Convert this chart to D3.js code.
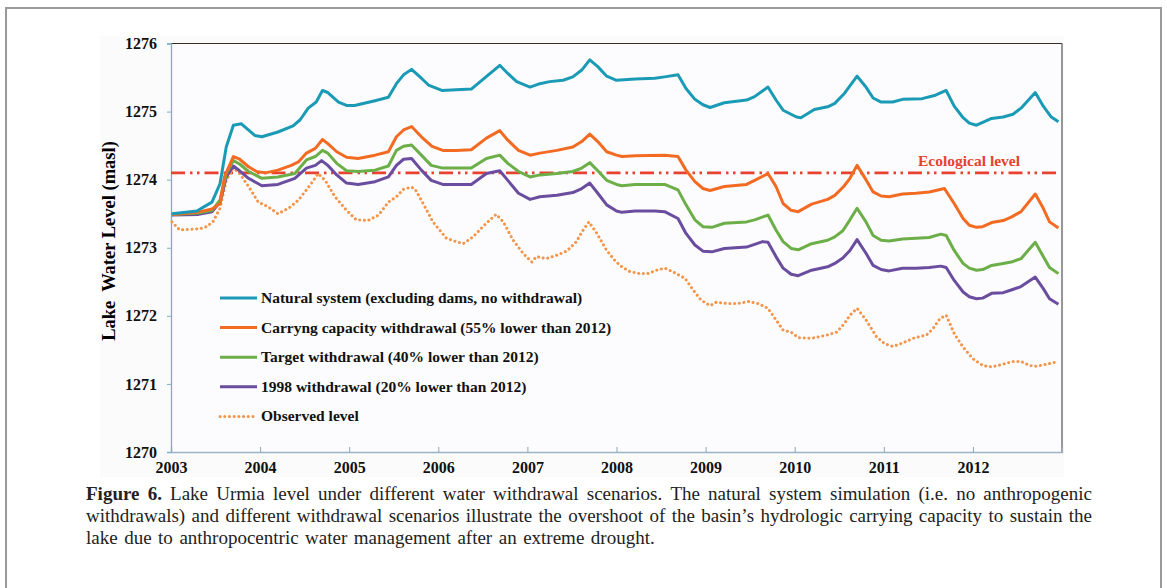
<!DOCTYPE html>
<meta charset="utf-8">
<style>
body { margin: 0; background: #fff; }
svg { display: block; }
.tick text { font-family: "Liberation Serif", "Times New Roman", serif; font-weight: bold; font-size: 16px; fill: #111; }
.legend text { font-family: "Liberation Serif", serif; font-weight: bold; font-size: 15.5px; fill: #111; }
.caption text { font-family: "Liberation Serif", serif; font-size: 19px; fill: #222; }
</style>
<body>
<script src="https://d3js.org/d3.v7.min.js"></script>
<script>

var width = 1167,
    height = 588;

// [decimal year, lake level (masl)]
var natural = [
  [2003.01,1273.50],[2003.29,1273.54],[2003.46,1273.67],[2003.55,1273.94],[2003.62,1274.48],[2003.70,1274.80],
  [2003.79,1274.82],[2003.94,1274.65],[2004.02,1274.63],[2004.20,1274.70],[2004.37,1274.79],[2004.45,1274.88],
  [2004.54,1275.05],[2004.63,1275.14],[2004.70,1275.31],[2004.76,1275.28],[2004.88,1275.14],[2004.97,1275.09],
  [2005.06,1275.09],[2005.29,1275.16],[2005.44,1275.21],[2005.53,1275.41],[2005.61,1275.54],[2005.70,1275.62],
  [2005.81,1275.49],[2005.89,1275.39],[2006.04,1275.31],[2006.20,1275.32],[2006.37,1275.33],[2006.69,1275.68],
  [2006.78,1275.56],[2006.88,1275.44],[2007.03,1275.36],[2007.14,1275.41],[2007.25,1275.44],[2007.40,1275.46],
  [2007.51,1275.51],[2007.61,1275.61],[2007.70,1275.76],[2007.79,1275.66],[2007.89,1275.52],[2008.00,1275.46],
  [2008.21,1275.48],[2008.43,1275.49],[2008.54,1275.51],[2008.69,1275.54],[2008.78,1275.34],[2008.88,1275.18],
  [2008.97,1275.10],[2009.05,1275.06],[2009.21,1275.13],[2009.46,1275.17],[2009.55,1275.22],[2009.70,1275.36],
  [2009.79,1275.17],[2009.87,1275.02],[2010.02,1274.92],[2010.07,1274.91],[2010.22,1275.03],[2010.37,1275.07],
  [2010.45,1275.12],[2010.56,1275.27],[2010.70,1275.52],[2010.80,1275.36],[2010.88,1275.20],[2010.97,1275.14],
  [2011.10,1275.14],[2011.21,1275.18],[2011.43,1275.19],[2011.58,1275.24],[2011.70,1275.31],[2011.79,1275.08],
  [2011.89,1274.91],[2011.96,1274.83],[2012.04,1274.80],[2012.11,1274.84],[2012.21,1274.90],[2012.34,1274.92],
  [2012.45,1274.96],[2012.54,1275.05],[2012.70,1275.28],[2012.79,1275.08],[2012.88,1274.92],[2012.96,1274.85]
];

var carrying = [
  [2003.01,1273.49],[2003.29,1273.52],[2003.46,1273.57],[2003.55,1273.65],[2003.60,1274.04],[2003.70,1274.34],
  [2003.77,1274.30],[2003.87,1274.19],[2003.96,1274.12],[2004.06,1274.10],[2004.20,1274.14],[2004.35,1274.21],
  [2004.43,1274.26],[2004.52,1274.39],[2004.62,1274.46],[2004.70,1274.59],[2004.76,1274.53],[2004.86,1274.41],
  [2004.97,1274.33],[2005.10,1274.31],[2005.29,1274.36],[2005.44,1274.41],[2005.53,1274.63],[2005.61,1274.73],
  [2005.70,1274.78],[2005.81,1274.63],[2005.93,1274.49],[2006.05,1274.43],[2006.20,1274.43],[2006.37,1274.44],
  [2006.54,1274.61],[2006.69,1274.72],[2006.78,1274.58],[2006.90,1274.43],[2007.03,1274.36],[2007.14,1274.39],
  [2007.33,1274.43],[2007.51,1274.48],[2007.61,1274.56],[2007.70,1274.67],[2007.79,1274.56],[2007.89,1274.41],
  [2008.00,1274.36],[2008.06,1274.34],[2008.21,1274.35],[2008.54,1274.36],[2008.69,1274.34],[2008.78,1274.14],
  [2008.88,1273.97],[2008.97,1273.87],[2009.05,1273.84],[2009.21,1273.90],[2009.46,1273.93],[2009.55,1273.99],
  [2009.70,1274.09],[2009.79,1273.90],[2009.87,1273.65],[2009.96,1273.55],[2010.04,1273.53],[2010.19,1273.64],
  [2010.37,1273.71],[2010.45,1273.77],[2010.55,1273.90],[2010.62,1274.02],[2010.70,1274.21],[2010.80,1274.00],
  [2010.88,1273.82],[2010.97,1273.76],[2011.06,1273.75],[2011.21,1273.79],[2011.36,1273.80],[2011.51,1273.82],
  [2011.68,1273.87],[2011.79,1273.65],[2011.89,1273.43],[2011.96,1273.33],[2012.04,1273.30],[2012.11,1273.31],
  [2012.21,1273.37],[2012.34,1273.40],[2012.43,1273.45],[2012.54,1273.53],[2012.70,1273.79],[2012.79,1273.58],
  [2012.86,1273.38],[2012.96,1273.29]
];

var target = [
  [2003.01,1273.49],[2003.31,1273.51],[2003.46,1273.55],[2003.55,1273.70],[2003.62,1274.09],[2003.70,1274.28],
  [2003.77,1274.23],[2003.87,1274.12],[2004.02,1274.02],[2004.20,1274.04],[2004.39,1274.09],[2004.52,1274.29],
  [2004.62,1274.34],[2004.70,1274.43],[2004.76,1274.39],[2004.86,1274.24],[2004.97,1274.13],[2005.10,1274.12],
  [2005.29,1274.14],[2005.44,1274.20],[2005.53,1274.43],[2005.61,1274.49],[2005.70,1274.51],[2005.81,1274.36],
  [2005.92,1274.21],[2006.05,1274.17],[2006.37,1274.17],[2006.54,1274.31],[2006.69,1274.36],[2006.78,1274.24],
  [2006.90,1274.12],[2007.03,1274.04],[2007.14,1274.07],[2007.33,1274.09],[2007.51,1274.12],[2007.61,1274.17],
  [2007.70,1274.25],[2007.79,1274.13],[2007.89,1273.99],[2008.00,1273.93],[2008.06,1273.91],[2008.21,1273.93],
  [2008.54,1273.93],[2008.69,1273.85],[2008.78,1273.63],[2008.88,1273.41],[2008.97,1273.31],[2009.07,1273.30],
  [2009.21,1273.36],[2009.46,1273.38],[2009.55,1273.41],[2009.70,1273.48],[2009.79,1273.26],[2009.87,1273.09],
  [2009.96,1272.99],[2010.04,1272.97],[2010.19,1273.06],[2010.37,1273.11],[2010.45,1273.16],[2010.54,1273.25],
  [2010.62,1273.41],[2010.70,1273.58],[2010.80,1273.38],[2010.88,1273.18],[2010.97,1273.11],[2011.06,1273.10],
  [2011.21,1273.13],[2011.36,1273.14],[2011.51,1273.15],[2011.64,1273.20],[2011.70,1273.18],[2011.79,1272.96],
  [2011.89,1272.77],[2011.96,1272.70],[2012.04,1272.67],[2012.11,1272.68],[2012.21,1272.74],[2012.34,1272.77],
  [2012.43,1272.79],[2012.54,1272.84],[2012.70,1273.08],[2012.79,1272.87],[2012.86,1272.71],[2012.96,1272.62]
];

var w1998 = [
  [2003.01,1273.48],[2003.31,1273.49],[2003.46,1273.53],[2003.55,1273.67],[2003.62,1274.04],[2003.70,1274.20],
  [2003.77,1274.13],[2003.87,1274.02],[2004.02,1273.91],[2004.20,1273.93],[2004.39,1274.02],[2004.52,1274.17],
  [2004.62,1274.21],[2004.69,1274.28],[2004.76,1274.21],[2004.86,1274.07],[2004.97,1273.95],[2005.10,1273.93],
  [2005.29,1273.97],[2005.44,1274.04],[2005.53,1274.21],[2005.61,1274.30],[2005.70,1274.31],[2005.81,1274.14],
  [2005.92,1273.99],[2006.05,1273.93],[2006.37,1273.93],[2006.54,1274.09],[2006.69,1274.13],[2006.78,1273.99],
  [2006.90,1273.80],[2007.03,1273.71],[2007.14,1273.75],[2007.33,1273.77],[2007.51,1273.81],[2007.61,1273.87],
  [2007.70,1273.95],[2007.79,1273.80],[2007.89,1273.63],[2008.00,1273.54],[2008.06,1273.52],[2008.21,1273.54],
  [2008.43,1273.54],[2008.54,1273.53],[2008.69,1273.43],[2008.78,1273.21],[2008.88,1273.04],[2008.97,1272.95],
  [2009.07,1272.94],[2009.21,1272.99],[2009.46,1273.01],[2009.55,1273.05],[2009.64,1273.09],[2009.70,1273.08],
  [2009.79,1272.87],[2009.87,1272.70],[2009.96,1272.61],[2010.04,1272.59],[2010.19,1272.67],[2010.37,1272.72],
  [2010.45,1272.77],[2010.54,1272.85],[2010.62,1272.96],[2010.70,1273.12],[2010.80,1272.92],[2010.88,1272.74],
  [2010.97,1272.68],[2011.06,1272.66],[2011.21,1272.70],[2011.36,1272.70],[2011.51,1272.71],[2011.64,1272.73],
  [2011.70,1272.71],[2011.79,1272.52],[2011.89,1272.35],[2011.96,1272.28],[2012.04,1272.25],[2012.11,1272.26],
  [2012.21,1272.33],[2012.34,1272.34],[2012.43,1272.38],[2012.54,1272.43],[2012.70,1272.57],[2012.79,1272.40],
  [2012.86,1272.25],[2012.96,1272.17]
];

var observed = [
  [2003.01,1273.38],[2003.10,1273.26],[2003.21,1273.27],[2003.33,1273.28],[2003.40,1273.31],[2003.47,1273.38],
  [2003.55,1273.58],[2003.62,1273.99],[2003.70,1274.17],[2003.77,1274.09],[2003.87,1273.90],[2003.98,1273.67],
  [2004.09,1273.60],[2004.20,1273.50],[2004.32,1273.58],[2004.43,1273.70],[2004.52,1273.85],[2004.60,1273.99],
  [2004.65,1274.09],[2004.73,1273.99],[2004.84,1273.75],[2004.97,1273.55],[2005.08,1273.41],[2005.21,1273.40],
  [2005.33,1273.48],[2005.44,1273.67],[2005.53,1273.75],[2005.61,1273.86],[2005.70,1273.89],[2005.74,1273.86],
  [2005.83,1273.65],[2005.94,1273.38],[2006.09,1273.14],[2006.20,1273.09],[2006.28,1273.06],[2006.39,1273.16],
  [2006.50,1273.31],[2006.58,1273.41],[2006.65,1273.49],[2006.73,1273.38],[2006.84,1273.11],[2006.95,1272.92],
  [2007.05,1272.79],[2007.10,1272.87],[2007.21,1272.84],[2007.33,1272.89],[2007.44,1272.95],[2007.55,1273.09],
  [2007.61,1273.23],[2007.69,1273.38],[2007.78,1273.21],[2007.89,1272.96],[2007.99,1272.80],[2008.06,1272.72],
  [2008.15,1272.65],[2008.26,1272.62],[2008.35,1272.62],[2008.45,1272.67],[2008.54,1272.70],[2008.63,1272.65],
  [2008.77,1272.55],[2008.86,1272.38],[2008.95,1272.23],[2009.05,1272.15],[2009.12,1272.20],[2009.25,1272.18],
  [2009.36,1272.18],[2009.48,1272.21],[2009.59,1272.18],[2009.70,1272.11],[2009.78,1271.96],[2009.87,1271.79],
  [2009.96,1271.76],[2010.04,1271.68],[2010.19,1271.67],[2010.37,1271.72],[2010.47,1271.76],[2010.56,1271.89],
  [2010.62,1272.01],[2010.70,1272.11],[2010.80,1271.94],[2010.92,1271.69],[2011.01,1271.59],[2011.10,1271.55],
  [2011.21,1271.60],[2011.33,1271.67],[2011.48,1271.72],[2011.55,1271.81],[2011.63,1271.96],[2011.70,1272.01],
  [2011.79,1271.74],[2011.89,1271.54],[2012.00,1271.37],[2012.11,1271.27],[2012.21,1271.25],[2012.34,1271.29],
  [2012.45,1271.33],[2012.54,1271.33],[2012.64,1271.27],[2012.71,1271.26],[2012.83,1271.29],[2012.96,1271.33]
];

var ecologicalLevel = 1274.1;

var seriesNames = [
  "Natural system (excluding dams, no withdrawal)",
  "Carryng capacity withdrawal (55% lower than 2012)",
  "Target withdrawal (40% lower than 2012)",
  "1998 withdrawal (20% lower than 2012)",
  "Observed level"
];
var seriesColors = ["#1b9ab6", "#f36b22", "#6cae47", "#6a4d9e", "#f5954a"];
var seriesData = [natural, carrying, target, w1998, observed];

var xTicks = [2003, 2004, 2005, 2006, 2007, 2008, 2009, 2010, 2011, 2012];
var yTicks = [1270, 1271, 1272, 1273, 1274, 1275, 1276];

var captionLines = [
  "Lake Urmia level under different water withdrawal scenarios. The natural system simulation (i.e. no anthropogenic",
  "withdrawals) and different withdrawal scenarios illustrate the overshoot of the basin\u2019s hydrologic carrying capacity to sustain the",
  "lake due to anthropocentric water management after an extreme drought."
];

var plotLeft = 171, plotRight = 1062, plotTop = 43.5, plotBottom = 452;

var svg = d3.select("body").append("svg")
    .attr("width", width)
    .attr("height", height);

// page frame
svg.append("rect")
    .attr("x", 6).attr("y", 8)
    .attr("width", 1155).attr("height", 600)
    .attr("fill", "#fff")
    .attr("stroke", "#9a9a9a")
    .attr("stroke-width", 2);

svg.append("rect")
    .attr("x", 100).attr("y", 36)
    .attr("width", 964).attr("height", 441)
    .attr("fill", "#fbfbfc");

var x = d3.scaleLinear().domain([2003, 2013]).range([plotLeft, plotRight]);
var y = d3.scaleLinear().domain([1270, 1276]).range([plotBottom, plotTop]);

svg.append("rect")
    .attr("x", plotLeft).attr("y", plotTop)
    .attr("width", plotRight - plotLeft).attr("height", plotBottom - plotTop)
    .attr("fill", "#fcfcfe");

// frame top / right
svg.append("line")
    .attr("x1", plotLeft).attr("x2", plotRight).attr("y1", plotTop).attr("y2", plotTop)
    .attr("stroke", "#3b2b22").attr("stroke-width", 1.2);
svg.append("line")
    .attr("x1", plotRight).attr("x2", plotRight).attr("y1", plotTop).attr("y2", plotBottom)
    .attr("stroke", "#555").attr("stroke-width", 1.2);

var yAxis = svg.append("g")
    .attr("transform", "translate(" + plotLeft + ",0)")
    .call(d3.axisLeft(y).tickValues(yTicks).tickFormat(d3.format("d")).tickSizeOuter(0).tickSize(4).tickPadding(10));
yAxis.select(".domain").attr("stroke", "#7fb0c0").attr("stroke-width", 1.3);
yAxis.selectAll(".tick line").attr("stroke", "#7fb0c0");

var xAxis = svg.append("g")
    .attr("transform", "translate(0," + plotBottom + ")")
    .call(d3.axisBottom(x).tickValues(xTicks).tickFormat(d3.format("d")).tickSizeOuter(0).tickSize(-5).tickPadding(10));
xAxis.select(".domain").attr("stroke", "#9ab4c4").attr("stroke-width", 1.3);
xAxis.selectAll(".tick line").attr("stroke", "#8aa8b8");

svg.append("text")
    .attr("transform", "translate(115,241)rotate(-90)")
    .attr("text-anchor", "middle")
    .style("font-family", "Liberation Serif, serif")
    .style("font-weight", "bold")
    .style("font-size", "18.5px")
    .style("white-space", "pre")
    .text("Lake  Water Level (masl)");

// ecological level
svg.append("line")
    .attr("x1", plotLeft).attr("x2", plotRight - 3)
    .attr("y1", y(ecologicalLevel)).attr("y2", y(ecologicalLevel))
    .attr("stroke", "#e8412f")
    .attr("stroke-width", 2.6)
    .attr("stroke-dasharray", "14,5,2.5,4.5,2.5,5");

svg.append("text")
    .attr("x", 969).attr("y", y(ecologicalLevel) - 7)
    .attr("text-anchor", "middle")
    .style("font-family", "Liberation Serif, serif")
    .style("font-weight", "bold")
    .style("font-size", "15.5px")
    .attr("fill", "#e8412f")
    .text("Ecological level");

var line = d3.line()
    .x(function(d) { return x(d[0]); })
    .y(function(d) { return y(d[1]); });

var order = [4, 3, 2, 1, 0];
order.forEach(function(i) {
  var p = svg.append("path")
      .datum(seriesData[i])
      .attr("d", line)
      .attr("fill", "none")
      .attr("stroke", seriesColors[i])
      .attr("stroke-linejoin", "round");
  if (i === 4) {
    p.attr("stroke-width", 3)
     .attr("stroke-linecap", "round")
     .attr("stroke-dasharray", "0.1,4.6");
  } else {
    p.attr("stroke-width", 3);
  }
});

// legend
var legend = svg.append("g").attr("class", "legend");
seriesNames.forEach(function(name, i) {
  var ly = 298 + i * 29.6;
  var l = legend.append("line")
      .attr("x1", 220).attr("x2", 257)
      .attr("y1", ly).attr("y2", ly)
      .attr("stroke", seriesColors[i]);
  if (i === 4) {
    l.attr("stroke-width", 3).attr("stroke-linecap", "round").attr("stroke-dasharray", "0.1,4.6");
  } else {
    l.attr("stroke-width", 3);
  }
  legend.append("text")
      .attr("x", 261).attr("y", ly + 5)
      .text(name);
});

// caption, justified
var cap = svg.append("g").attr("class", "caption");
var cx0 = 86, cx1 = 1092, cy0 = 500, lh = 22;

captionLines.forEach(function(txt, li) {
  var words = txt.split(" ");
  if (li === 0) words = ["Figure", "6."].concat(words);
  var nodes = words.map(function(w, wi) {
    var t = cap.append("text").attr("y", cy0 + li * lh).text(w);
    if (li === 0 && wi < 2) t.style("font-weight", "bold");
    return t;
  });
  var widths = nodes.map(function(t) { return t.node().getComputedTextLength(); });
  var total = d3.sum(widths);
  var gap = li < captionLines.length - 1 ? (cx1 - cx0 - total) / (words.length - 1) : 6.5;
  var cx = cx0;
  nodes.forEach(function(t, k) {
    t.attr("x", cx);
    cx += widths[k] + gap;
  });
});

</script>
